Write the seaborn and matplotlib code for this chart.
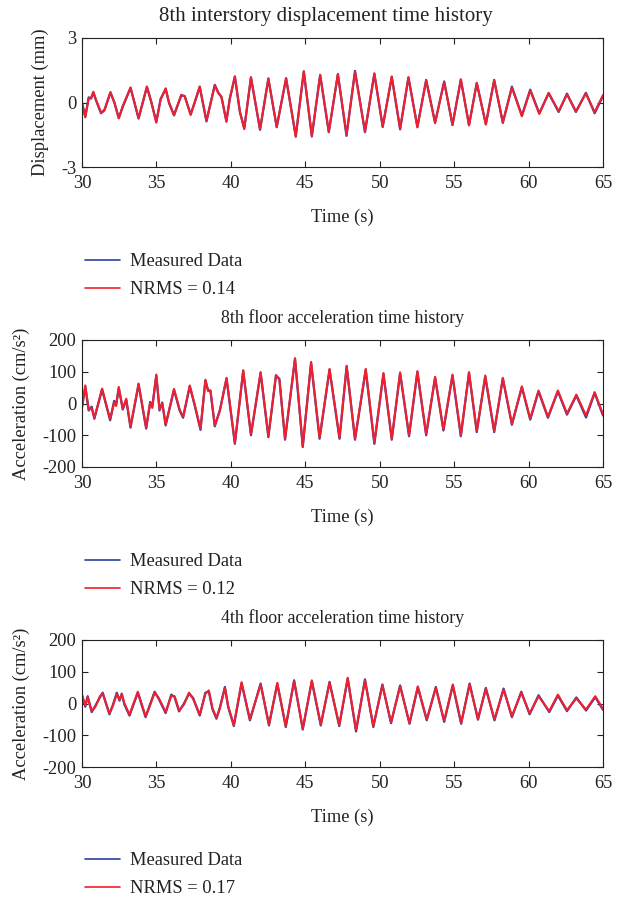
import numpy as np
import pandas as pd
import matplotlib
matplotlib.use("Agg")
import matplotlib.pyplot as plt
import seaborn as sns

sns.set_theme(style="white")
plt.rcParams['font.family'] = ['Liberation Serif', 'DejaVu Serif']
plt.rcParams['axes.unicode_minus'] = False

# ---------------- data ----------------
titles = ["8th interstory displacement time history",
          "8th floor acceleration time history",
          "4th floor acceleration time history"]
ylabels = ["Displacement (mm)", "Acceleration (cm/s\u00b2)", "Acceleration (cm/s\u00b2)"]
nrms_labels = ["NRMS = 0.14", "NRMS = 0.12", "NRMS = 0.17"]

t1 = [30.0, 30.22, 30.45, 30.61, 30.76, 30.94, 31.28, 31.51, 31.91, 32.18, 32.47, 32.74, 33.26, 33.8,
      34.36, 34.65, 34.99, 35.28, 35.62, 35.85, 36.18, 36.67, 36.9, 37.3, 37.62, 37.91, 38.36, 38.92,
      39.15, 39.37, 39.7, 39.93, 40.27, 40.61, 40.9, 41.35, 41.96, 42.52, 43.08, 43.71, 44.36, 44.9,
      45.44, 46.0, 46.58, 47.19, 47.77, 48.34, 49.01, 49.64, 50.2, 50.81, 51.37, 51.93, 52.53, 53.12,
      53.72, 54.33, 54.89, 55.45, 56.0, 56.52, 57.13, 57.69, 58.27, 58.88, 59.55, 60.11, 60.72, 61.35,
      62.02, 62.58, 63.18, 63.85, 64.44, 65.0]
pred1 = [-0.03, -0.69, 0.2, 0.2, 0.5, 0.13, -0.47, -0.34, 0.49, -0.03, -0.74, -0.16, 0.7, -0.72,
         0.75, 0.05, -0.94, 0.13, 0.66, 0.0, -0.58, 0.36, 0.28, -0.58, 0.13, 0.75, -0.85, 0.8,
         0.44, 0.28, -0.9, 0.2, 1.22, -0.42, -1.24, 1.18, -1.24, 1.13, -1.13, 1.14, -1.6, 1.46,
         -1.55, 1.29, -1.36, 1.33, -1.5, 1.43, -1.35, 1.36, -1.11, 1.21, -1.22, 1.18, -1.16, 1.03,
         -0.96, 0.96, -1.03, 1.08, -1.07, 0.92, -1.03, 1.03, -0.92, 0.69, -0.64, 0.56, -0.53, 0.45,
         -0.41, 0.38, -0.41, 0.42, -0.45, 0.35]
meas1 = [0.0, -0.66, 0.24, 0.18, 0.47, 0.1, -0.5, -0.36, 0.46, 0.0, -0.72, -0.2, 0.68, -0.75,
         0.72, 0.03, -0.9, 0.16, 0.63, -0.03, -0.6, 0.33, 0.3, -0.55, 0.1, 0.72, -0.88, 0.82,
         0.47, 0.24, -0.86, 0.17, 1.2, -0.46, -1.2, 1.16, -1.27, 1.1, -1.15, 1.12, -1.56, 1.43,
         -1.58, 1.27, -1.38, 1.31, -1.55, 1.47, -1.38, 1.33, -1.14, 1.19, -1.25, 1.16, -1.13, 1.05,
         -0.93, 0.98, -1.05, 1.06, -1.04, 0.9, -1.0, 1.05, -0.95, 0.74, -0.61, 0.6, -0.5, 0.43,
         -0.44, 0.41, -0.44, 0.45, -0.5, 0.3]

t2 = [30.0, 30.22, 30.45, 30.65, 30.83, 31.35, 31.89, 32.16, 32.29, 32.47, 32.74, 32.97, 33.26, 33.8,
      34.31, 34.58, 34.72, 34.99, 35.21, 35.39, 35.62, 36.18, 36.56, 36.79, 37.24, 37.57, 37.96,
      38.29, 38.47, 38.63, 38.92, 39.26, 39.71, 40.27, 40.83, 41.35, 42.0, 42.52, 43.03, 43.26,
      43.64, 44.31, 44.83, 45.39, 45.96, 46.63, 47.3, 47.78, 48.34, 49.06, 49.64, 50.25, 50.81,
      51.37, 51.97, 52.53, 53.12, 53.72, 54.28, 54.89, 55.45, 56.0, 56.52, 57.09, 57.69, 58.27,
      58.88, 59.55, 60.11, 60.67, 61.3, 61.97, 62.58, 63.21, 63.86, 64.44, 65.0]
pred2 = [-14, 57, -19, -14, -45, 47, -50, 4, -8, 52, -16, 15, -73, 63,
         -76, 2, -14, 91, -19, 0, -66, 46, -19, -42, 57, -3, -80,
         75, 39, 42, -69, -24, 81, -124, 105, -97, 99, -103, 90, 75,
         -111, 143, -134, 131, -108, 109, -108, 119, -111, 109, -124, 96, -111,
         98, -100, 102, -97, 84, -82, 91, -100, 99, -87, 88, -87, 81,
         -64, 54, -48, 41, -42, 41, -32, 28, -38, 36, -35]
meas2 = [-10, 52, -22, -10, -48, 44, -53, 8, -5, 48, -19, 12, -76, 60,
         -79, 5, -11, 88, -22, 3, -69, 43, -22, -45, 54, -6, -83,
         72, 42, 39, -72, -21, 78, -127, 102, -100, 96, -106, 87, 78,
         -114, 140, -137, 128, -111, 106, -111, 116, -114, 106, -127, 93, -114,
         95, -103, 99, -100, 81, -85, 88, -103, 96, -90, 85, -90, 78,
         -67, 51, -51, 38, -45, 38, -35, 25, -44, 33, -38]

t3 = [30.0, 30.22, 30.38, 30.65, 30.9, 31.21, 31.39, 31.84, 32.07, 32.34, 32.52, 32.67, 32.85, 33.19,
      33.75, 34.27, 34.54, 34.88, 35.15, 35.62, 36.0, 36.22, 36.52, 36.85, 37.19, 37.46, 37.91,
      38.29, 38.52, 38.76, 39.03, 39.26, 39.6, 39.82, 40.2, 40.72, 41.28, 42.0, 42.56, 43.12,
      43.69, 44.25, 44.83, 45.44, 46.04, 46.63, 47.28, 47.85, 48.41, 49.01, 49.57, 50.18, 50.76,
      51.37, 52.0, 52.56, 53.16, 53.77, 54.33, 54.91, 55.47, 56.04, 56.6, 57.13, 57.71, 58.32,
      58.88, 59.51, 60.07, 60.67, 61.39, 61.97, 62.58, 63.21, 63.86, 64.48, 65.0]
pred3 = [28, -6, 20, -24, -10, 23, 31, -31, -8, 31, 12, 28, 0, -35,
         37, -40, -10, 34, 18, -27, 25, 23, -22, -3, 34, 15, -35,
         31, 41, -14, -45, -16, 49, -8, -68, 67, -50, 60, -66, 65,
         -71, 70, -79, 73, -66, 65, -68, 81, -84, 73, -71, 57, -59,
         54, -61, 54, -50, 49, -55, 60, -61, 60, -48, 46, -50, 44,
         -40, 34, -31, 23, -24, 28, -21, 16, -19, 23, -17]
meas3 = [25, -10, 23, -27, -7, 20, 34, -34, -5, 34, 9, 31, -3, -38,
         34, -43, -7, 37, 15, -30, 28, 20, -25, 0, 31, 18, -38,
         34, 38, -17, -48, -13, 52, -11, -71, 64, -53, 63, -69, 62,
         -74, 73, -82, 70, -69, 68, -71, 78, -88, 76, -74, 60, -62,
         57, -64, 51, -53, 52, -58, 57, -64, 63, -51, 49, -53, 47,
         -43, 37, -34, 26, -27, 25, -24, 19, -22, 20, -20]

times = [t1, t2, t3]
measured = [meas1, meas2, meas3]
predicted = [pred1, pred2, pred3]
ylims = [(-3, 3), (-200, 200), (-200, 200)]
yticks = [[-3, 0, 3], [-200, -100, 0, 100, 200], [-200, -100, 0, 100, 200]]
xticks = [30, 35, 40, 45, 50, 55, 60, 65]

# ---------------- figure ----------------
W, H = 624, 902
fig = plt.figure(figsize=(W / 100, H / 100), dpi=100)

axes_px = [(38, 167), (340, 467), (640, 767)]   # top, bottom pixel rows
legend_top = [253, 553, 852]
title_x = [0.468, 0.5, 0.5]
title_fs = [15.0, 12.9, 12.9]
left_px, right_px = 82, 603

blue = "#2b3f9e"
red = "#f0202e"
fs = 13.3
ink = "#222222"

for i in range(3):
    top, bot = axes_px[i]
    ax = fig.add_axes([left_px / W, 1 - bot / H, (right_px - left_px) / W, (bot - top) / H])
    df = pd.DataFrame({"t": times[i], "meas": measured[i], "pred": predicted[i]})
    sns.lineplot(data=df, x="t", y="meas", ax=ax, color=blue, lw=1.6, sort=False,
                 estimator=None, label="Measured Data")
    sns.lineplot(data=df, x="t", y="pred", ax=ax, color=red, lw=1.5, sort=False,
                 estimator=None, label=nrms_labels[i])
    ax.set_xlim(30, 65)
    ax.set_ylim(*ylims[i])
    ax.set_xticks(xticks)
    ax.set_yticks(yticks[i])
    ax.set_xticklabels([str(v) for v in xticks], fontsize=fs)
    ax.set_yticklabels([str(v) for v in yticks[i]], fontsize=fs)
    ax.tick_params(axis="x", pad=6)
    ax.tick_params(axis="y", pad=4)
    ax.tick_params(direction="in", length=4, width=0.8, top=True, right=True,
                   bottom=True, left=True, colors=ink, labelcolor=ink)
    for s in ax.spines.values():
        s.set_color(ink)
        s.set_linewidth(0.8)
    ax.set_xlabel("Time (s)", fontsize=fs, color=ink, labelpad=12)
    ax.set_ylabel(ylabels[i], fontsize=fs, color=ink, labelpad=9)
    ax.set_title(titles[i], fontsize=title_fs[i], color=ink, pad=12, x=title_x[i])
    leg = ax.legend(loc="upper left", bbox_to_anchor=(85 / W, 1 - legend_top[i] / H),
                    bbox_transform=fig.transFigure, frameon=False, fontsize=fs,
                    handlelength=1.9, handletextpad=0.55, labelspacing=0.6,
                    borderpad=0, borderaxespad=0)
    for line in leg.get_lines():
        line.set_linewidth(1.2)
    for txt in leg.get_texts():
        txt.set_color(ink)
    ax.grid(False)

fig.savefig("out.png", dpi=100, facecolor="white")
